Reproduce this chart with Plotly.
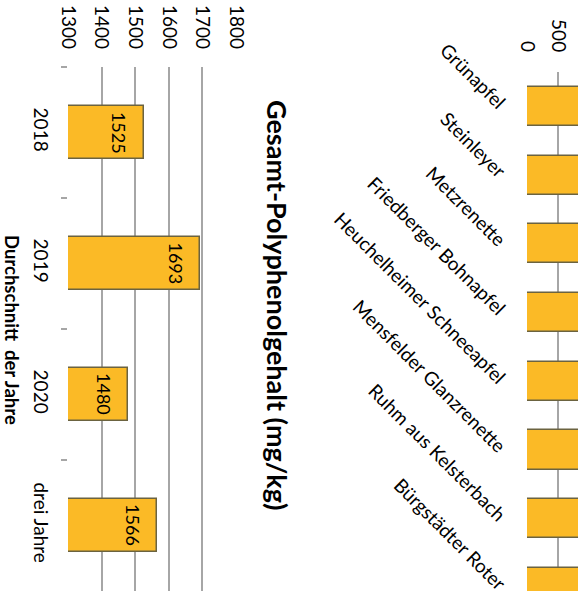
import plotly.graph_objects as go

# Left chart: average total polyphenol content per year
years = ["2018", "2019", "2020", "drei Jahre"]
year_values = [1525, 1693, 1480, 1566]

# Right chart: varieties (bars are cut off at the image edge; values estimated)
varieties = ["Grünapfel", "Steinleyer", "Metzrenette", "Friedberger Bohnapfel",
             "Heuchelheimer Schneeapfel", "Mensfelder Glanzrenette",
             "Ruhm aus Kelsterbach", "Bürgstädter Roter"]
variety_values = [2100, 1800, 1700, 2300, 1600, 1900, 1500, 2000]

title_text = "Gesamt-Polyphenolgehalt (mg/kg)"
cat_title = "Durchschnitt  der Jahre"

W, H = 578, 591
FONT = "Lato"
BAR = "#FBBA26"
EDGE = "#6b6340"
GRID = "#a6a6a6"

fig = go.Figure()
fig.add_trace(go.Bar(
    x=year_values, y=years, orientation="h",
    marker=dict(color=BAR, line=dict(color=EDGE, width=1.5)),
    width=0.4,
    xaxis="x", yaxis="y", showlegend=False, hoverinfo="skip",
))
fig.add_trace(go.Bar(
    x=variety_values, y=varieties, orientation="h",
    marker=dict(color=BAR, line=dict(color=EDGE, width=1.5)),
    width=0.57,
    xaxis="x2", yaxis="y2", showlegend=False, hoverinfo="skip",
))

annotations = [
    dict(text="<b>" + title_text + "</b>", xref="paper", yref="paper",
         x=278 / W, y=1 - 305 / H, xanchor="center", yanchor="middle",
         textangle=90, showarrow=False, font=dict(family=FONT, size=27)),
    dict(text="<b>" + cat_title + "</b>", xref="paper", yref="paper",
         x=0, y=1 - 330 / H, xanchor="left", yanchor="middle",
         textangle=90, showarrow=False, borderpad=0,
         font=dict(family=FONT, size=18.5)),
]
for i, v in enumerate(year_values):
    annotations.append(dict(
        text=str(v), x=v, y=i, xref="x", yref="y",
        xanchor="right", yanchor="middle", xshift=-12,
        textangle=90, showarrow=False, borderpad=0,
        font=dict(family=FONT, size=18, color="black")))

fig.update_layout(
    template="none",
    width=W, height=H,
    margin=dict(l=0, r=0, t=0, b=0, pad=0),
    paper_bgcolor="white", plot_bgcolor="white",
    font=dict(family=FONT, size=19, color="black"),
    bargap=0,
    xaxis=dict(domain=[68 / W, 236 / W], range=[1300, 1800], dtick=100,
               side="top", tickangle=90, showgrid=True, gridcolor=GRID,
               gridwidth=1.5, zeroline=False, showline=False, ticks="",
               ticklabelstandoff=14, anchor="y", automargin=False),
    yaxis=dict(domain=[0, 1 - 67 / H], range=[3.5, -0.5], type="category",
               tickangle=90, ticks="outside", ticklen=6, tickcolor=GRID,
               tickwidth=1.5, tickson="boundaries", showgrid=False,
               ticklabelstandoff=14, showline=False, anchor="x",
               automargin=False),
    xaxis2=dict(domain=[527 / W, 1.0], range=[0, 500 * (W - 527) / 31], dtick=500,
                side="top", tickangle=90, showgrid=True, gridcolor=GRID,
                gridwidth=1.5, zeroline=False, showline=False, ticks="",
                ticklabelstandoff=16, anchor="y2", automargin=False),
    yaxis2=dict(domain=[0, 1 - 72 / H], range=[7.05, -0.5], type="category",
                tickangle=45, ticks="", showgrid=False, showline=False,
                ticklabelstandoff=22, anchor="x2", automargin=False),
    annotations=annotations,
)

fig.write_html("out.html")
